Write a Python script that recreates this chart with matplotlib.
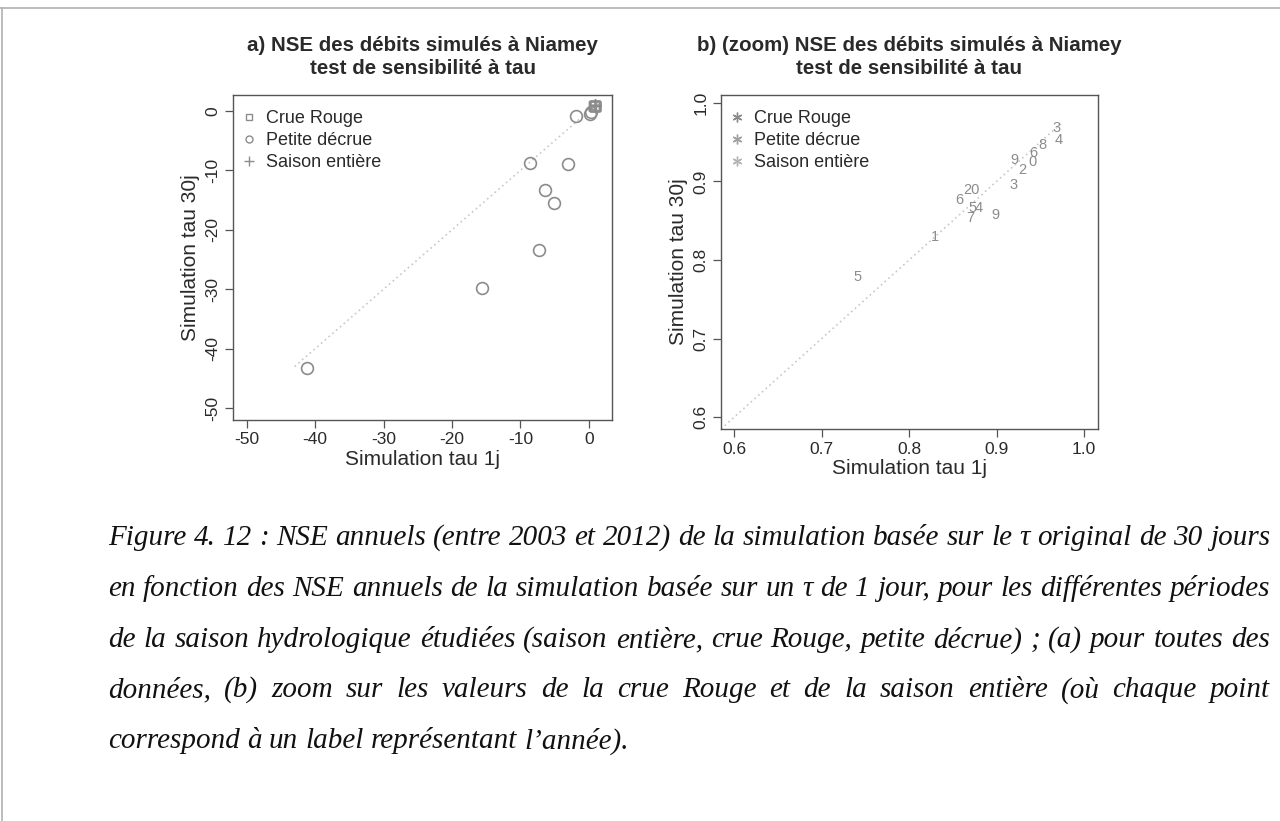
import matplotlib
matplotlib.use("Agg")
import matplotlib.pyplot as plt
from matplotlib.lines import Line2D

# --- data ---
# petite decrue (NSE annuels), tau 1j vs tau 30j
pd_1j = [-41.2, -15.6, -7.3, -5.1, -6.4, -8.6, -3.1, -1.9, 0.15, 0.4]
pd_30j = [-43.2, -29.7, -23.4, -15.5, -13.3, -8.7, -8.9, -0.8, -0.5, -0.2]

# crue Rouge, labels = annee
cr_lab = ['3', '4', '5', '6', '7', '5', '9', '20', '1']
cr_1j = [0.920, 0.880, 0.741, 0.858, 0.870, 0.872, 0.899, 0.871, 0.830]
cr_30j = [0.896, 0.866, 0.778, 0.876, 0.853, 0.866, 0.857, 0.889, 0.829]

# saison entiere
se_lab = ['3', '4', '8', '6', '0', '9', '2']
se_1j = [0.969, 0.971, 0.952, 0.942, 0.941, 0.920, 0.930]
se_30j = [0.968, 0.953, 0.946, 0.936, 0.925, 0.927, 0.915]

xt_a = [-50, -40, -30, -20, -10, 0]
xt_b = [0.6, 0.7, 0.8, 0.9, 1.0]

caption = [
    "Figure 4. 12 : NSE annuels (entre 2003 et 2012) de la simulation basée sur le τ original de 30 jours",
    "en fonction des NSE annuels de la simulation basée sur un τ de 1 jour, pour les différentes périodes",
    "de la saison hydrologique étudiées (saison entière, crue Rouge, petite décrue) ; (a) pour toutes des",
    "données, (b) zoom sur les valeurs de la crue Rouge et de la saison entière (où chaque point",
    "correspond à un label représentant l’année).",
]

plt.rcParams['font.family'] = ['Liberation Sans', 'DejaVu Sans']

GREY = '#8c8c8c'
DARK = '#2a2a2a'

fig = plt.figure(figsize=(12.8, 8.21), dpi=100)
fig.patch.set_facecolor('white')

# page frame lines
fig.add_artist(Line2D([0, 1], [1 - 8 / 821, 1 - 8 / 821], color='#b0b0b0', lw=1.2))
fig.add_artist(Line2D([2 / 1280, 2 / 1280], [0, 1 - 8 / 821], color='#b0b0b0', lw=1.2))

axA = fig.add_axes([233 / 1280, 1 - 420 / 821, (612 - 233) / 1280, (420 - 95) / 821])
axB = fig.add_axes([721 / 1280, 1 - 429 / 821, (1098 - 721) / 1280, (429 - 95) / 821])


def style(ax, ticks):
    for s in ax.spines.values():
        s.set_color('#555555')
        s.set_linewidth(1.0)
    ax.set_xticks(ticks)
    ax.set_yticks(ticks)
    ax.set_xticklabels([f"{t:g}" if isinstance(t, int) else f"{t:.1f}" for t in ticks])
    ax.set_yticklabels([f"{t:g}" if isinstance(t, int) else f"{t:.1f}" for t in ticks])
    ax.tick_params(direction='out', length=6, width=0.9, color='#555555',
                   labelcolor=DARK, labelsize=12.5, pad=3)
    ax.tick_params(axis='y', labelrotation=90)
    for lab in ax.get_yticklabels():
        lab.set_va('center')
    ax.set_xlabel("Simulation tau 1j", fontsize=15, color=DARK, labelpad=2)
    ax.set_ylabel("Simulation tau 30j", fontsize=15, color=DARK, labelpad=4)


def legend(ax, handles):
    h = ax.get_position().height * 821
    leg = ax.legend(handles, ["Crue Rouge", "Petite décrue", "Saison entière"],
                    loc='upper left', bbox_to_anchor=(0.0, 1 - 6 / h),
                    frameon=False, fontsize=13, handlelength=0.8, handletextpad=0.55,
                    labelspacing=0.28, borderaxespad=0.4, borderpad=0.1)
    for t in leg.get_texts():
        t.set_color(DARK)


# (a)
axA.plot([-43, 1.5], [-43, 1.5], ls=(0, (1, 2)), color='#c8c8c8', lw=1.2)
axA.plot(cr_1j, cr_30j, ls='none', marker='s', ms=7, mfc='none', mec=GREY, mew=1.0)
axA.plot(pd_1j, pd_30j, ls='none', marker='o', ms=8.5, mfc='none', mec=GREY, mew=1.2)
axA.plot(se_1j, se_30j, ls='none', marker='+', ms=8, mec=GREY, mew=1.0)
axA.set_xlim(-52.0, 3.4)
axA.set_ylim(-52.0, 2.7)
style(axA, xt_a)
axA.set_title("a) NSE des débits simulés à Niamey\ntest de sensibilité à tau",
              fontsize=14.8, fontweight='bold', color=DARK, pad=15, linespacing=1.3)
legend(axA, [Line2D([], [], ls='none', marker='s', ms=5, mfc='none', mec=GREY),
             Line2D([], [], ls='none', marker='o', ms=5, mfc='none', mec=GREY),
             Line2D([], [], ls='none', marker='+', ms=7, mec=GREY)])

# (b)
axB.plot([0.585, 0.975], [0.585, 0.975], ls=(0, (1, 2)), color='#c8c8c8', lw=1.2)
for lab, x, y in zip(cr_lab, cr_1j, cr_30j):
    axB.text(x, y, lab, ha='center', va='center', fontsize=10.5, color=GREY)
for lab, x, y in zip(se_lab, se_1j, se_30j):
    axB.text(x, y, lab, ha='center', va='center', fontsize=10.5, color=GREY)
axB.set_xlim(0.585, 1.016)
axB.set_ylim(0.585, 1.01)
style(axB, xt_b)
axB.set_title("b) (zoom) NSE des débits simulés à Niamey\ntest de sensibilité à tau",
              fontsize=14.8, fontweight='bold', color=DARK, pad=15, linespacing=1.3)
legend(axB, [Line2D([], [], ls='none', marker=(6, 2, 0), ms=7, mec=c, mew=1.0)
             for c in ['#8a8a8a', '#a0a0a0', '#b4b4b4']])

# caption, justified word by word
renderer = fig.canvas.get_renderer()
x_left, x_right = 108, 1270
ys = [538, 589, 640, 690, 741]
W = fig.get_figwidth() * fig.dpi
H = fig.get_figheight() * fig.dpi
cap_kw = dict(family='Liberation Serif', style='italic', fontsize=21, color='#111111',
              va='center', ha='left')
for i, (line, yp) in enumerate(zip(caption, ys)):
    words = line.split(' ')
    arts = [fig.text(0, 1 - yp / H, w, **cap_kw) for w in words]
    widths = [a.get_window_extent(renderer).width for a in arts]
    if i < len(caption) - 1:
        gap = (x_right - x_left - sum(widths)) / (len(words) - 1)
    else:
        sp = fig.text(0, 0, 'a a', **cap_kw)
        aa = fig.text(0, 0, 'aa', **cap_kw)
        gap = sp.get_window_extent(renderer).width - aa.get_window_extent(renderer).width
        sp.remove()
        aa.remove()
    xp = x_left
    for a, w in zip(arts, widths):
        a.set_x(xp / W)
        xp += w + gap

fig.savefig("out.png", dpi=100, facecolor='white')
